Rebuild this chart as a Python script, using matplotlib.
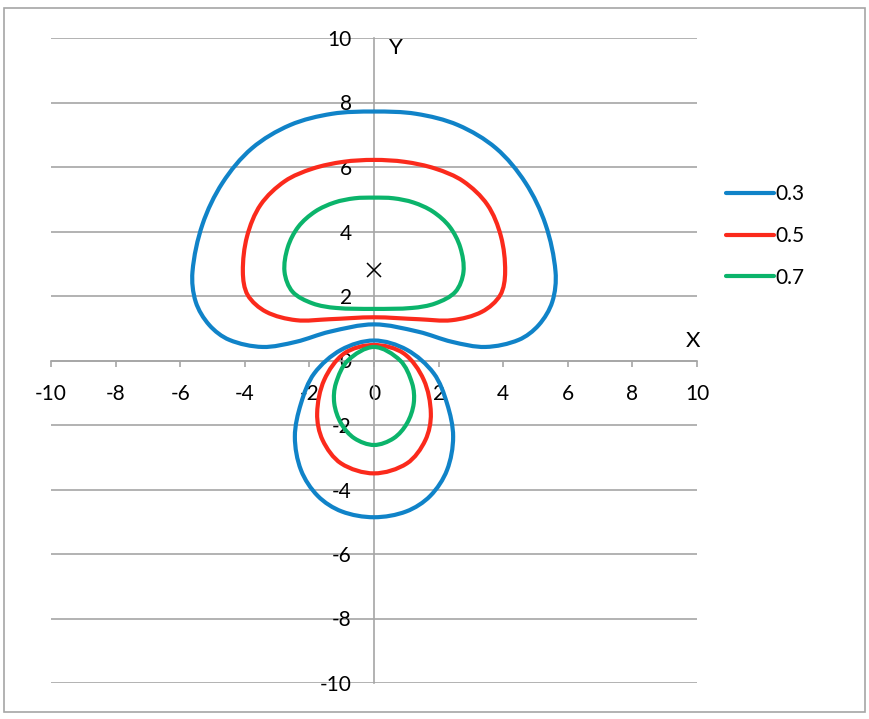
import numpy as np
import matplotlib.pyplot as plt
from matplotlib.path import Path
from matplotlib.patches import PathPatch, Rectangle

# level values and colours
levels = ["0.3", "0.5", "0.7"]
colors = ["#1083c8", "#fb2a1c", "#0bb46b"]

# points, each loop clockwise from its top
upper_03_x = [0, 1.3, 2.6, 3.78, 4.69, 5.31, 5.62, 5.52, 5.1, 4.48, 3.45, 2.41, 1.38,
              0, -1.38, -2.41, -3.45, -4.48, -5.1, -5.52, -5.62, -5.31, -4.69, -3.78, -2.6, -1.3]
upper_03_y = [7.72, 7.65, 7.3, 6.58, 5.51, 4.22, 2.75, 1.82, 1.1, 0.64, 0.42, 0.58, 0.89,
              1.12, 0.89, 0.58, 0.42, 0.64, 1.1, 1.82, 2.75, 4.22, 5.51, 6.58, 7.3, 7.65]
lower_03_x = [0, 1.02, 1.85, 2.26, 2.45, 2.26, 1.74, 1.0,
              0, -1.0, -1.74, -2.26, -2.45, -2.26, -1.85, -1.02]
lower_03_y = [0.62, 0.33, -0.4, -1.33, -2.36, -3.4, -4.2, -4.68,
              -4.86, -4.68, -4.2, -3.4, -2.36, -1.33, -0.4, 0.33]

upper_05_x = [0, 0.95, 1.9, 2.76, 3.51, 3.93, 4.06, 3.91, 3.34, 2.41, 1.38,
              0, -1.38, -2.41, -3.34, -3.91, -4.06, -3.93, -3.51, -2.76, -1.9, -0.95]
upper_05_y = [6.22, 6.16, 5.95, 5.56, 4.83, 3.85, 2.75, 2.03, 1.51, 1.25, 1.28,
              1.34, 1.28, 1.25, 1.51, 2.03, 2.75, 3.85, 4.83, 5.56, 5.95, 6.16]
lower_05_x = [0, 0.92, 1.54, 1.76, 1.59, 1.02, 0, -1.02, -1.59, -1.76, -1.54, -0.92]
lower_05_y = [0.48, 0.22, -0.6, -1.64, -2.47, -3.19, -3.5, -3.19, -2.47, -1.64, -0.6, 0.22]

upper_07_x = [0, 0.6, 1.22, 1.82, 2.34, 2.67, 2.77, 2.52, 1.9, 1.18,
              0, -1.18, -1.9, -2.52, -2.77, -2.67, -2.34, -1.82, -1.22, -0.6]
upper_07_y = [5.05, 5.03, 4.9, 4.62, 4.15, 3.51, 2.75, 2.13, 1.77, 1.63,
              1.6, 1.63, 1.77, 2.13, 2.75, 3.51, 4.15, 4.62, 4.9, 5.03]
lower_07_x = [0, 0.81, 1.18, 1.23, 1.02, 0.61, 0, -0.61, -1.02, -1.23, -1.18, -0.81]
lower_07_y = [0.42, 0.0, -0.71, -1.33, -1.95, -2.41, -2.62, -2.41, -1.95, -1.33, -0.71, 0.0]

loops = [
    [(upper_03_x, upper_03_y), (lower_03_x, lower_03_y)],
    [(upper_05_x, upper_05_y), (lower_05_x, lower_05_y)],
    [(upper_07_x, upper_07_y), (lower_07_x, lower_07_y)],
]

charge_x, charge_y = 0, 2.8
ticks = np.arange(-10, 11, 2)


def smooth_loop(xs, ys):
    # closed smoothed curve through the points, cubic Bezier segments
    p = np.column_stack([xs, ys]).astype(float)
    n = len(p)
    d = np.linalg.norm(np.roll(p, -1, axis=0) - p, axis=1)  # chord i -> i+1
    tang = (np.roll(p, -1, axis=0) - np.roll(p, 1, axis=0)) / (np.roll(d, 1) + d)[:, None]
    verts = [p[0]]
    codes = [Path.MOVETO]
    for i in range(n):
        j = (i + 1) % n
        verts += [p[i] + tang[i] * d[i] / 3, p[j] - tang[j] * d[i] / 3, p[j]]
        codes += [Path.CURVE4] * 3
    return Path(verts, codes)


plt.rcParams['font.family'] = ['Lato', 'DejaVu Sans']
fig = plt.figure(figsize=(8.69, 7.19), dpi=100)
fig.add_artist(Rectangle((4 / 869, 7 / 719), 861 / 869, 704 / 719, transform=fig.transFigure,
                         fill=False, edgecolor="#a6a6a6", lw=1.2))
ax = fig.add_axes([51 / 869, 36 / 719, 646 / 869, 645 / 719])
ax.set_xlim(-10, 10)
ax.set_ylim(-10, 10)

for s in ["top", "right"]:
    ax.spines[s].set_visible(False)
ax.spines["left"].set_position(("data", 0))
ax.spines["bottom"].set_position(("data", 0))
for s in ["left", "bottom"]:
    ax.spines[s].set_color("#a6a6a6")
    ax.spines[s].set_linewidth(1.2)

ax.set_xticks(ticks)
ax.set_yticks(ticks)
ax.set_xticklabels([str(t) for t in ticks])
ax.set_yticklabels([str(t) for t in ticks])
ax.tick_params(axis="x", direction="out", length=4, width=1.2, color="#a6a6a6",
               labelsize=15, pad=13)
ax.tick_params(axis="y", length=0, labelsize=15, pad=16)
ax.grid(axis="y", color="#a6a6a6", lw=1.2)
ax.set_axisbelow(True)

for lv, col, pair in zip(levels, colors, loops):
    for xs, ys in pair:
        ax.add_patch(PathPatch(smooth_loop(xs, ys), fill=False, edgecolor=col, lw=3, zorder=3))
    ax.plot([], [], color=col, lw=3, solid_capstyle="round", label=lv)

ax.plot(charge_x, charge_y, marker="x", color="black", ms=10, mew=1.1, zorder=4)

ax.text(9.88, 0.6, "X", fontsize=16, ha="center", va="center")
ax.text(0.68, 9.69, "Y", fontsize=16, ha="center", va="center")

ax.legend(loc="center left", bbox_to_anchor=(0.835, 0.672), bbox_transform=fig.transFigure,
          frameon=False, fontsize=15, handlelength=2.3, handletextpad=0.1,
          labelspacing=1.05, borderpad=0, borderaxespad=0)

fig.savefig("out.png", dpi=100)
